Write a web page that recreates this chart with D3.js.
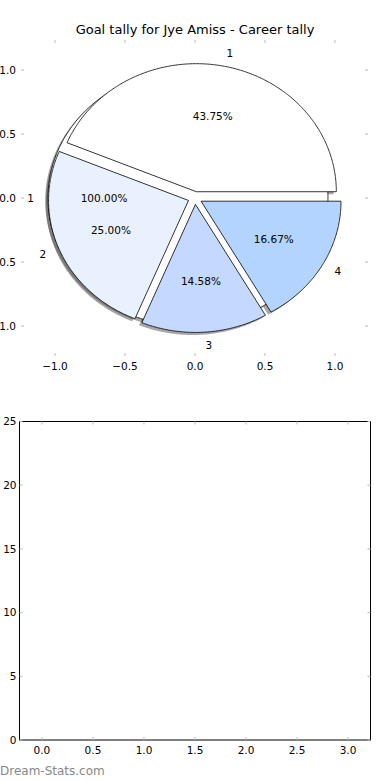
<!DOCTYPE html>
<html>
<head>
<meta charset="utf-8">
<script src="https://cdn.jsdelivr.net/npm/d3@7"></script>
<style>
  body { margin: 0; background: #fff; }
  svg { display: block; font-family: "DejaVu Sans", sans-serif; }
</style>
</head>
<body>
<figure id="chart" style="margin:0"></figure>
<script>
// career pie (single wedge) and season pie
const careerLabels = ["1"];
const careerValues = [48];
const sliceLabels = ["1", "2", "3", "4"];
const sliceValues = [21, 12, 7, 8];
const sliceColors = ["#ffffff", "#eaf1fe", "#c5d8fe", "#b3d4fe"];
const pieTicks = [-1.0, -0.5, 0.0, 0.5, 1.0];

// empty bar panel below
const barXTicks = [0, 0.5, 1.0, 1.5, 2.0, 2.5, 3.0];
const barYTicks = [0, 5, 10, 15, 20, 25];

const width = 390, height = 780;
const explode = 0.05;
const fmt = v => d3.format(".1f")(v).replace("-", "\u2212");

const svg = d3.select("figure#chart")
  .append("svg")
  .attr("width", width)
  .attr("height", height);

svg.append("text")
  .attr("x", 195).attr("y", 34)
  .attr("text-anchor", "middle")
  .attr("font-size", 13)
  .text("Goal tally for Jye Amiss - Career tally");

// pie axes scales
const x = d3.scaleLinear().domain([-1.243, 1.236]).range([21, 368]);
const y = d3.scaleLinear().domain([-1.234, 1.234]).range([356, 40]);

// angles counterclockwise from 3 o'clock, like matplotlib
const pieGen = d3.pie().sort(null).startAngle(0).endAngle(2 * Math.PI);

function wedges(values) {
  return pieGen(values).map((a, i) => {
    const mid = (a.startAngle + a.endAngle) / 2;
    return {
      i: i,
      t1: a.startAngle, t2: a.endAngle, mid: mid,
      cx: explode * Math.cos(mid), cy: explode * Math.sin(mid),
      full: a.endAngle - a.startAngle >= 2 * Math.PI - 1e-9,
      pct: a.value / d3.sum(values) * 100
    };
  });
}

function wedgePath(w, ox, oy) {
  const pts = [];
  if (!w.full) pts.push([w.cx + ox, w.cy + oy]);
  const n = Math.max(8, Math.ceil((w.t2 - w.t1) / 0.01));
  for (let k = 0; k <= n; k++) {
    const t = w.t1 + (w.t2 - w.t1) * k / n;
    pts.push([w.cx + ox + Math.cos(t), w.cy + oy + Math.sin(t)]);
  }
  return d3.line().x(d => x(d[0])).y(d => y(d[1]))(pts) + "Z";
}

const careerWedges = wedges(careerValues);
const sliceWedges = wedges(sliceValues);

// shadows first (they sit under every wedge)
const shadowG = svg.append("g");
[careerWedges, sliceWedges].forEach(ws => {
  shadowG.selectAll(null)
    .data(ws)
    .enter()
    .append("path")
    .attr("d", w => wedgePath(w, -0.02, -0.02))
    .attr("fill", "#4d4d4d")
    .attr("fill-opacity", 0.5);
});

svg.append("g").selectAll("path")
  .data(careerWedges)
  .enter()
  .append("path")
  .attr("d", w => wedgePath(w, 0, 0))
  .attr("fill", "#ffffff")
  .attr("stroke", "#000")
  .attr("stroke-width", 0.8);

svg.append("g").selectAll("path")
  .data(sliceWedges)
  .enter()
  .append("path")
  .attr("d", w => wedgePath(w, 0, 0))
  .attr("fill", w => sliceColors[w.i])
  .attr("stroke", "#000")
  .attr("stroke-width", 0.8)
  .attr("stroke-linejoin", "miter");

function pieText(ws, labels) {
  const g = svg.append("g").attr("font-size", 10.5);
  g.selectAll(null)
    .data(ws)
    .enter()
    .append("text")
    .attr("x", w => x(w.cx + 1.1 * Math.cos(w.mid)))
    .attr("y", w => y(w.cy + 1.1 * Math.sin(w.mid)))
    .attr("dy", "0.35em")
    .attr("text-anchor", w => Math.cos(w.mid) > 0 ? "start" : "end")
    .text(w => labels[w.i]);
  g.selectAll(null)
    .data(ws)
    .enter()
    .append("text")
    .attr("x", w => x(w.cx + 0.6 * Math.cos(w.mid)))
    .attr("y", w => y(w.cy + 0.6 * Math.sin(w.mid)))
    .attr("dy", "0.35em")
    .attr("text-anchor", "middle")
    .text(w => w.pct.toFixed(2) + "%");
}
pieText(careerWedges, careerLabels);
pieText(sliceWedges, sliceLabels);

// pie axes ticks (no frame)
const tickColor = "#bbbbbb";
function pieAxes() {
  const [x0, x1] = x.range(), [y0, y1] = y.range();
  const g = svg.append("g").attr("font-size", 10.5);
  pieTicks.forEach(t => {
    g.append("line").attr("x1", x(t)).attr("x2", x(t)).attr("y1", y1).attr("y2", y1 + 3).attr("stroke", tickColor);
    g.append("line").attr("x1", x(t)).attr("x2", x(t)).attr("y1", y0).attr("y2", y0 - 3).attr("stroke", tickColor);
    g.append("line").attr("y1", y(t)).attr("y2", y(t)).attr("x1", x0).attr("x2", x0 + 3).attr("stroke", tickColor);
    g.append("line").attr("y1", y(t)).attr("y2", y(t)).attr("x1", x1).attr("x2", x1 - 3).attr("stroke", tickColor);
    g.append("text").attr("x", x(t)).attr("y", y0 + 14).attr("text-anchor", "middle").text(fmt(t));
    g.append("text").attr("x", x0 - 5).attr("y", y(t)).attr("dy", "0.35em").attr("text-anchor", "end").text(fmt(t));
  });
}
pieAxes();

// empty lower panel
const bx = d3.scaleLinear().domain([-0.22, 3.22]).range([19.5, 370.5]);
const by = d3.scaleLinear().domain([0, 25]).range([740, 421.5]);

const bottom = svg.append("g").attr("font-size", 10.5);
bottom.append("rect")
  .attr("x", bx.range()[0]).attr("y", by.range()[1])
  .attr("width", bx.range()[1] - bx.range()[0])
  .attr("height", by.range()[0] - by.range()[1])
  .attr("fill", "none").attr("stroke", "#000").attr("stroke-width", 1);

barXTicks.forEach(t => {
  bottom.append("line").attr("x1", bx(t)).attr("x2", bx(t)).attr("y1", by(0)).attr("y2", by(0) - 3).attr("stroke", tickColor);
  bottom.append("line").attr("x1", bx(t)).attr("x2", bx(t)).attr("y1", by(25)).attr("y2", by(25) + 3).attr("stroke", tickColor);
  bottom.append("text").attr("x", bx(t)).attr("y", by(0) + 14).attr("text-anchor", "middle").text(d3.format(".1f")(t));
});
barYTicks.forEach(t => {
  bottom.append("line").attr("y1", by(t)).attr("y2", by(t)).attr("x1", bx.range()[0]).attr("x2", bx.range()[0] + 3).attr("stroke", tickColor);
  bottom.append("line").attr("y1", by(t)).attr("y2", by(t)).attr("x1", bx.range()[1]).attr("x2", bx.range()[1] - 3).attr("stroke", tickColor);
  bottom.append("text").attr("x", bx.range()[0] - 3).attr("y", by(t)).attr("dy", "0.35em").attr("text-anchor", "end").text(t);
});

svg.append("text")
  .attr("x", 0).attr("y", 775)
  .attr("font-size", 12)
  .attr("fill", "#888")
  .text("Dream-Stats.com");
</script>
</body>
</html>
